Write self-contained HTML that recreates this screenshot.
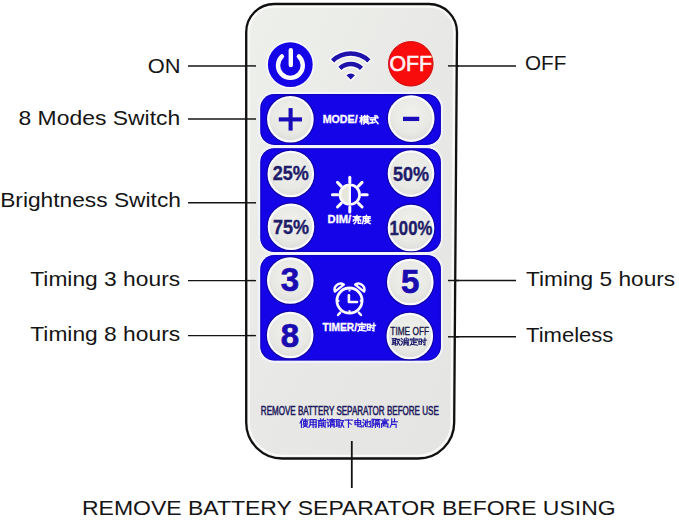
<!DOCTYPE html>
<html><head><meta charset="utf-8">
<style>
*{margin:0;padding:0;box-sizing:border-box}
html,body{width:679px;height:520px;background:#fff;overflow:hidden;position:relative;font-family:"Liberation Sans",sans-serif}
.lbl{position:absolute;font-size:21px;color:#151515;white-space:nowrap;line-height:1;transform-origin:right top}
.lblr{position:absolute;font-size:21px;color:#151515;white-space:nowrap;line-height:1;transform-origin:left top}
</style></head><body>
<svg width="679" height="520" viewBox="0 0 679 520" style="position:absolute;left:0;top:0">
<defs>
<linearGradient id="body" x1="0" y1="0" x2="1" y2="1">
<stop offset="0" stop-color="#eef0ec"/><stop offset="0.5" stop-color="#e8e9e6"/><stop offset="1" stop-color="#e4e5e3"/>
</linearGradient>
<radialGradient id="btn" cx="0.5" cy="0.4" r="0.6">
<stop offset="0" stop-color="#f1f2ee"/><stop offset="0.7" stop-color="#e8e9e4"/><stop offset="1" stop-color="#dddedb"/>
</radialGradient>
</defs>
<line x1="188" y1="65.9" x2="256" y2="65.9" stroke="#141414" stroke-width="1.45"/>
<line x1="188" y1="119.0" x2="256" y2="119.0" stroke="#141414" stroke-width="1.45"/>
<line x1="188" y1="202.8" x2="256" y2="202.8" stroke="#141414" stroke-width="1.45"/>
<line x1="188" y1="280.6" x2="256" y2="280.6" stroke="#141414" stroke-width="1.45"/>
<line x1="188" y1="335.6" x2="256" y2="335.6" stroke="#141414" stroke-width="1.45"/>
<line x1="448" y1="65.9" x2="516" y2="65.9" stroke="#141414" stroke-width="1.45"/>
<line x1="448" y1="280.5" x2="516" y2="280.5" stroke="#141414" stroke-width="1.45"/>
<line x1="448" y1="336.8" x2="516" y2="336.8" stroke="#141414" stroke-width="1.45"/>
<path d="M246.2,32.0 C246.2,16.5356 258.7356,4.0 274.2,4.0 L429.0,4.0 C444.4644,4.0 457.0,16.5356 457.0,32.0 L454.2,422.5 C454.2,442.3828 438.08279999999996,458.5 418.2,458.5 L282.2,458.5 C262.3172,458.5 246.2,442.3828 246.2,422.5 Z" fill="url(#body)" stroke="#101010" stroke-width="2.3"/>
<path d="M249.0,32.0 C249.0,18.08204 260.28204,6.8 274.2,6.8 L429.0,6.8 C442.91796,6.8 454.2,18.08204 454.2,32.0 L451.4,422.5 C451.4,440.83636 436.53636,455.7 418.2,455.7 L282.2,455.7 C263.86364,455.7 249.0,440.83636 249.0,422.5 Z" fill="none" stroke="#fafaf8" stroke-width="2.0"/>
<line x1="245" y1="65.9" x2="256" y2="65.9" stroke="#141414" stroke-width="1.45"/>
<line x1="245" y1="119.0" x2="256" y2="119.0" stroke="#141414" stroke-width="1.45"/>
<line x1="245" y1="202.8" x2="256" y2="202.8" stroke="#141414" stroke-width="1.45"/>
<line x1="245" y1="280.6" x2="256" y2="280.6" stroke="#141414" stroke-width="1.45"/>
<line x1="245" y1="335.6" x2="256" y2="335.6" stroke="#141414" stroke-width="1.45"/>
<line x1="448" y1="65.9" x2="459" y2="65.9" stroke="#141414" stroke-width="1.45"/>
<line x1="448" y1="280.5" x2="459" y2="280.5" stroke="#141414" stroke-width="1.45"/>
<line x1="448" y1="336.8" x2="459" y2="336.8" stroke="#141414" stroke-width="1.45"/>
<line x1="351.8" y1="441" x2="351.8" y2="488" stroke="#141414" stroke-width="1.8"/>
<circle cx="290.3" cy="64.6" r="23.2" fill="#1604e8" stroke="#fbfbff" stroke-width="1.6"/>
<path d="M298.86,56.43 A12.4,12.4 0 1 1 281.94,56.43" fill="none" stroke="#fbfbff" stroke-width="4.4" stroke-linecap="round"/>
<line x1="290.8" y1="50.3" x2="290.8" y2="65" stroke="#fbfbff" stroke-width="4.4" stroke-linecap="round"/>
<path d="M330.97,59.17 A28.4,28.4 0 0 1 370.43,59.17 L367.30,62.41 A23.9,23.9 0 0 0 334.10,62.41 Z" fill="#1e12aa" stroke="#fbfbff" stroke-width="2.8" stroke-linejoin="round" paint-order="stroke"/>
<path d="M338.34,66.80 A17.8,17.8 0 0 1 363.06,66.80 L359.94,70.03 A13.3,13.3 0 0 0 341.46,70.03 Z" fill="#1e12aa" stroke="#fbfbff" stroke-width="2.8" stroke-linejoin="round" paint-order="stroke"/>
<path d="M350.70,79.60 L346.46,75.21 A6.1,6.1 0 0 1 354.94,75.21 Z" fill="#1e12aa" stroke="#fbfbff" stroke-width="2.8" stroke-linejoin="round" paint-order="stroke"/>
<circle cx="410.8" cy="63.8" r="23.2" fill="#fff0f0"/>
<circle cx="410.8" cy="63.8" r="22.3" fill="#f80c0c" stroke="#c00808" stroke-width="0.9"/>
<text x="410.7" y="71.4" text-anchor="middle" font-family="Liberation Sans" font-weight="normal" font-size="22.6" fill="#fff4f4" stroke="#fff4f4" stroke-width="0.65" transform="translate(410.7,0) scale(0.94,1) translate(-410.7,0)">OFF</text>
<rect x="258.2" y="92.0" width="184.79999999999995" height="55.000000000000014" rx="16" fill="#f3f3fc"/>
<rect x="260.3" y="94.1" width="180.59999999999997" height="50.80000000000001" rx="14" fill="#1604e8"/>
<rect x="260.90000000000003" y="94.69999999999999" width="179.39999999999998" height="49.60000000000001" rx="13.4" fill="none" stroke="#0c0098" stroke-width="1.1" opacity="0.55"/>
<rect x="258.2" y="146.1" width="184.79999999999995" height="108.00000000000001" rx="16" fill="#f3f3fc"/>
<rect x="260.3" y="148.2" width="180.59999999999997" height="103.80000000000001" rx="14" fill="#1604e8"/>
<rect x="260.90000000000003" y="148.79999999999998" width="179.39999999999998" height="102.60000000000001" rx="13.4" fill="none" stroke="#0c0098" stroke-width="1.1" opacity="0.55"/>
<rect x="258.2" y="253.0" width="184.79999999999995" height="109.70000000000003" rx="16" fill="#f3f3fc"/>
<rect x="260.3" y="255.1" width="180.59999999999997" height="105.50000000000003" rx="14" fill="#1604e8"/>
<rect x="260.90000000000003" y="255.7" width="179.39999999999998" height="104.30000000000003" rx="13.4" fill="none" stroke="#0c0098" stroke-width="1.1" opacity="0.55"/>
<circle cx="290.4" cy="119.2" r="23.7" fill="none" stroke="#0a0080" stroke-width="1.8" opacity="0.6"/>
<circle cx="290.4" cy="119.2" r="22.2" fill="url(#btn)" stroke="#fbfbff" stroke-width="2.2"/>
<circle cx="411.2" cy="118.6" r="23.7" fill="none" stroke="#0a0080" stroke-width="1.8" opacity="0.6"/>
<circle cx="411.2" cy="118.6" r="22.2" fill="url(#btn)" stroke="#fbfbff" stroke-width="2.2"/>
<circle cx="290.8" cy="174.0" r="23.7" fill="none" stroke="#0a0080" stroke-width="1.8" opacity="0.6"/>
<circle cx="290.8" cy="174.0" r="22.2" fill="url(#btn)" stroke="#fbfbff" stroke-width="2.2"/>
<circle cx="411.0" cy="173.6" r="23.7" fill="none" stroke="#0a0080" stroke-width="1.8" opacity="0.6"/>
<circle cx="411.0" cy="173.6" r="22.2" fill="url(#btn)" stroke="#fbfbff" stroke-width="2.2"/>
<circle cx="291.0" cy="226.8" r="23.7" fill="none" stroke="#0a0080" stroke-width="1.8" opacity="0.6"/>
<circle cx="291.0" cy="226.8" r="22.2" fill="url(#btn)" stroke="#fbfbff" stroke-width="2.2"/>
<circle cx="411.0" cy="228.0" r="23.7" fill="none" stroke="#0a0080" stroke-width="1.8" opacity="0.6"/>
<circle cx="411.0" cy="228.0" r="22.2" fill="url(#btn)" stroke="#fbfbff" stroke-width="2.2"/>
<circle cx="290.3" cy="280.5" r="23.7" fill="none" stroke="#0a0080" stroke-width="1.8" opacity="0.6"/>
<circle cx="290.3" cy="280.5" r="22.2" fill="url(#btn)" stroke="#fbfbff" stroke-width="2.2"/>
<circle cx="290.2" cy="335.0" r="23.7" fill="none" stroke="#0a0080" stroke-width="1.8" opacity="0.6"/>
<circle cx="290.2" cy="335.0" r="22.2" fill="url(#btn)" stroke="#fbfbff" stroke-width="2.2"/>
<circle cx="410.3" cy="282.0" r="23.7" fill="none" stroke="#0a0080" stroke-width="1.8" opacity="0.6"/>
<circle cx="410.3" cy="282.0" r="22.2" fill="url(#btn)" stroke="#fbfbff" stroke-width="2.2"/>
<circle cx="409.8" cy="336.0" r="23.7" fill="none" stroke="#0a0080" stroke-width="1.8" opacity="0.6"/>
<circle cx="409.8" cy="336.0" r="22.2" fill="url(#btn)" stroke="#fbfbff" stroke-width="2.2"/>
<line x1="278.8" y1="119.4" x2="302" y2="119.4" stroke="#1a0cb8" stroke-width="4.1"/>
<line x1="290.6" y1="108.1" x2="290.6" y2="130.6" stroke="#1a0cb8" stroke-width="4.1"/>
<line x1="403" y1="118.9" x2="419.2" y2="118.9" stroke="#1a0cb8" stroke-width="4.3"/>
<text x="290.8" y="180.1" text-anchor="middle" font-family="Liberation Sans" font-weight="bold" font-size="21" fill="#1f1c6a" transform="translate(290.8,0) scale(0.86,1) translate(-290.8,0)" stroke="#1f1c6a" stroke-width="0.4">25%</text>
<text x="411.0" y="180.9" text-anchor="middle" font-family="Liberation Sans" font-weight="bold" font-size="21" fill="#1f1c6a" transform="translate(411.0,0) scale(0.86,1) translate(-411.0,0)" stroke="#1f1c6a" stroke-width="0.4">50%</text>
<text x="291.0" y="234.3" text-anchor="middle" font-family="Liberation Sans" font-weight="bold" font-size="21" fill="#1f1c6a" transform="translate(291.0,0) scale(0.86,1) translate(-291.0,0)" stroke="#1f1c6a" stroke-width="0.4">75%</text>
<text x="411.0" y="235.4" text-anchor="middle" font-family="Liberation Sans" font-weight="bold" font-size="21" fill="#1f1c6a" transform="translate(411.0,0) scale(0.8,1) translate(-411.0,0)" stroke="#1f1c6a" stroke-width="0.4">100%</text>
<text x="289.9" y="291.2" text-anchor="middle" font-family="Liberation Sans" font-weight="bold" font-size="33" fill="#1a0cb0" transform="translate(289.9,0) scale(1.0,1) translate(-289.9,0)" stroke="#1a0cb0" stroke-width="0.7">3</text>
<text x="290.0" y="347.0" text-anchor="middle" font-family="Liberation Sans" font-weight="bold" font-size="33" fill="#1a0cb0" transform="translate(290.0,0) scale(1.0,1) translate(-290.0,0)" stroke="#1a0cb0" stroke-width="0.7">8</text>
<text x="410.3" y="293.0" text-anchor="middle" font-family="Liberation Sans" font-weight="bold" font-size="33" fill="#1a0cb0" transform="translate(410.3,0) scale(1.0,1) translate(-410.3,0)" stroke="#1a0cb0" stroke-width="0.7">5</text>
<text x="409.7" y="334.6" text-anchor="middle" font-family="Liberation Sans" font-weight="normal" font-size="10.4" fill="#1a1848" transform="translate(409.7,0) scale(0.8,1) translate(-409.7,0)" stroke="#1a1848" stroke-width="0.35">TIME OFF</text>
<text x="322.7" y="123.5" font-family="Liberation Sans" font-weight="bold" font-size="11" fill="#fbfbff" stroke="#fbfbff" stroke-width="0.35" transform="translate(322.7,0) scale(0.97,1) translate(-322.7,0)">MODE/</text>
<text x="327.6" y="223.4" font-family="Liberation Sans" font-weight="bold" font-size="11.2" fill="#fbfbff" stroke="#fbfbff" stroke-width="0.35">DIM/</text>
<text x="322.6" y="330.8" font-family="Liberation Sans" font-weight="bold" font-size="10.6" fill="#fbfbff" stroke="#fbfbff" stroke-width="0.35" transform="translate(322.6,0) scale(0.96,1) translate(-322.6,0)">TIMER/</text>
<line x1="349.80" y1="182.50" x2="349.80" y2="177.30" stroke="#fbfbff" stroke-width="3.0" stroke-linecap="round"/>
<line x1="358.43" y1="186.07" x2="362.10" y2="182.40" stroke="#fbfbff" stroke-width="3.0" stroke-linecap="round"/>
<line x1="362.00" y1="194.70" x2="367.20" y2="194.70" stroke="#fbfbff" stroke-width="3.0" stroke-linecap="round"/>
<line x1="358.43" y1="203.33" x2="362.10" y2="207.00" stroke="#fbfbff" stroke-width="3.0" stroke-linecap="round"/>
<line x1="349.80" y1="206.90" x2="349.80" y2="212.10" stroke="#fbfbff" stroke-width="3.0" stroke-linecap="round"/>
<line x1="341.17" y1="203.33" x2="337.50" y2="207.00" stroke="#fbfbff" stroke-width="3.0" stroke-linecap="round"/>
<line x1="337.60" y1="194.70" x2="332.40" y2="194.70" stroke="#fbfbff" stroke-width="3.0" stroke-linecap="round"/>
<line x1="341.17" y1="186.07" x2="337.50" y2="182.40" stroke="#fbfbff" stroke-width="3.0" stroke-linecap="round"/>
<path d="M349.8,184.79999999999998 A9.9,9.9 0 0 0 349.8,204.6 Z" fill="#e6e6dc"/>
<circle cx="349.8" cy="194.7" r="9.8" fill="none" stroke="#fbfbff" stroke-width="2.7"/>
<line x1="349.8" y1="184.7" x2="349.8" y2="204.7" stroke="#fbfbff" stroke-width="2.4"/>
<circle cx="349.5" cy="300.6" r="12.6" fill="none" stroke="#fbfbff" stroke-width="2.8"/>
<path d="M334.9,291.6 A6.0,6.0 0 0 1 343.8,284.6 Z" fill="#1604e8" stroke="#fbfbff" stroke-width="2.4" stroke-linejoin="round"/>
<path d="M364.1,291.6 A6.0,6.0 0 0 0 355.2,284.6 Z" fill="#1604e8" stroke="#fbfbff" stroke-width="2.4" stroke-linejoin="round"/>
<line x1="340.2" y1="312.6" x2="338.0" y2="315.0" stroke="#fbfbff" stroke-width="2.4" stroke-linecap="round"/>
<line x1="358.8" y1="312.6" x2="361.0" y2="315.0" stroke="#fbfbff" stroke-width="2.4" stroke-linecap="round"/>
<polyline points="348.9,295.2 348.9,302 357.0,302" fill="none" stroke="#fbfbff" stroke-width="2.6" stroke-linecap="round" stroke-linejoin="round"/>
<line x1="349.5" y1="289.6" x2="349.5" y2="291.4" stroke="#fbfbff" stroke-width="2"/>
<line x1="349.5" y1="310.2" x2="349.5" y2="312" stroke="#fbfbff" stroke-width="2"/>
<line x1="337.6" y1="300.8" x2="339.4" y2="300.8" stroke="#fbfbff" stroke-width="2"/>
<line x1="359.8" y1="300.8" x2="361.6" y2="300.8" stroke="#fbfbff" stroke-width="2"/>
<polyline points="360.00,117.88 363.01,117.88" fill="none" stroke="#fbfbff" stroke-width="1.5" stroke-linecap="square" stroke-linejoin="miter"/>
<polyline points="361.55,115.73 361.55,123.90" fill="none" stroke="#fbfbff" stroke-width="1.5" stroke-linecap="square" stroke-linejoin="miter"/>
<polyline points="361.55,118.31 360.00,121.75" fill="none" stroke="#fbfbff" stroke-width="1.5" stroke-linecap="square" stroke-linejoin="miter"/>
<polyline points="361.55,118.57 363.01,120.46" fill="none" stroke="#fbfbff" stroke-width="1.5" stroke-linecap="square" stroke-linejoin="miter"/>
<polyline points="363.44,116.59 368.60,116.59" fill="none" stroke="#fbfbff" stroke-width="1.5" stroke-linecap="square" stroke-linejoin="miter"/>
<polyline points="364.73,115.56 364.73,117.54" fill="none" stroke="#fbfbff" stroke-width="1.5" stroke-linecap="square" stroke-linejoin="miter"/>
<polyline points="367.31,115.56 367.31,117.54" fill="none" stroke="#fbfbff" stroke-width="1.5" stroke-linecap="square" stroke-linejoin="miter"/>
<polyline points="364.30,118.05 367.74,118.05 367.74,120.98 364.30,120.98 364.30,118.05" fill="none" stroke="#fbfbff" stroke-width="1.5" stroke-linecap="square" stroke-linejoin="miter"/>
<polyline points="364.30,119.51 367.74,119.51" fill="none" stroke="#fbfbff" stroke-width="1.5" stroke-linecap="square" stroke-linejoin="miter"/>
<polyline points="363.44,122.01 368.60,122.01" fill="none" stroke="#fbfbff" stroke-width="1.5" stroke-linecap="square" stroke-linejoin="miter"/>
<polyline points="366.02,120.98 363.70,123.90" fill="none" stroke="#fbfbff" stroke-width="1.5" stroke-linecap="square" stroke-linejoin="miter"/>
<polyline points="366.02,122.01 368.60,123.90" fill="none" stroke="#fbfbff" stroke-width="1.5" stroke-linecap="square" stroke-linejoin="miter"/>
<polyline points="369.86,117.88 377.94,117.88" fill="none" stroke="#fbfbff" stroke-width="1.5" stroke-linecap="square" stroke-linejoin="miter"/>
<polyline points="370.46,119.77 374.33,119.77" fill="none" stroke="#fbfbff" stroke-width="1.5" stroke-linecap="square" stroke-linejoin="miter"/>
<polyline points="372.35,119.77 372.35,122.70" fill="none" stroke="#fbfbff" stroke-width="1.5" stroke-linecap="square" stroke-linejoin="miter"/>
<polyline points="370.03,123.04 374.76,122.35" fill="none" stroke="#fbfbff" stroke-width="1.5" stroke-linecap="square" stroke-linejoin="miter"/>
<polyline points="375.02,115.56 375.45,120.46 378.03,123.73" fill="none" stroke="#fbfbff" stroke-width="1.5" stroke-linecap="square" stroke-linejoin="miter"/>
<polyline points="376.65,115.82 377.51,116.85" fill="none" stroke="#fbfbff" stroke-width="1.5" stroke-linecap="square" stroke-linejoin="miter"/>
<polyline points="357.00,215.40 357.00,216.38" fill="none" stroke="#fbfbff" stroke-width="1.45" stroke-linecap="square" stroke-linejoin="miter"/>
<polyline points="353.24,216.63 360.76,216.63" fill="none" stroke="#fbfbff" stroke-width="1.45" stroke-linecap="square" stroke-linejoin="miter"/>
<polyline points="355.00,217.61 359.00,217.61 359.00,219.09 355.00,219.09 355.00,217.61" fill="none" stroke="#fbfbff" stroke-width="1.45" stroke-linecap="square" stroke-linejoin="miter"/>
<polyline points="353.40,221.14 353.40,220.07 360.60,220.07 360.60,221.14" fill="none" stroke="#fbfbff" stroke-width="1.45" stroke-linecap="square" stroke-linejoin="miter"/>
<polyline points="355.80,220.73 355.80,221.96 354.20,223.60" fill="none" stroke="#fbfbff" stroke-width="1.45" stroke-linecap="square" stroke-linejoin="miter"/>
<polyline points="358.20,220.73 358.20,223.19 360.76,223.19" fill="none" stroke="#fbfbff" stroke-width="1.45" stroke-linecap="square" stroke-linejoin="miter"/>
<polyline points="366.40,215.40 366.40,216.38" fill="none" stroke="#fbfbff" stroke-width="1.45" stroke-linecap="square" stroke-linejoin="miter"/>
<polyline points="363.36,216.71 370.16,216.71" fill="none" stroke="#fbfbff" stroke-width="1.45" stroke-linecap="square" stroke-linejoin="miter"/>
<polyline points="363.36,216.71 363.36,220.32 362.40,223.60" fill="none" stroke="#fbfbff" stroke-width="1.45" stroke-linecap="square" stroke-linejoin="miter"/>
<polyline points="364.40,218.35 370.16,218.35" fill="none" stroke="#fbfbff" stroke-width="1.45" stroke-linecap="square" stroke-linejoin="miter"/>
<polyline points="365.60,217.53 365.60,219.99" fill="none" stroke="#fbfbff" stroke-width="1.45" stroke-linecap="square" stroke-linejoin="miter"/>
<polyline points="368.40,217.53 368.40,219.99" fill="none" stroke="#fbfbff" stroke-width="1.45" stroke-linecap="square" stroke-linejoin="miter"/>
<polyline points="365.60,219.99 368.40,219.99" fill="none" stroke="#fbfbff" stroke-width="1.45" stroke-linecap="square" stroke-linejoin="miter"/>
<polyline points="364.80,220.98 369.20,220.98 364.80,223.60" fill="none" stroke="#fbfbff" stroke-width="1.45" stroke-linecap="square" stroke-linejoin="miter"/>
<polyline points="366.00,221.80 370.24,223.60" fill="none" stroke="#fbfbff" stroke-width="1.45" stroke-linecap="square" stroke-linejoin="miter"/>
<polyline points="361.90,323.00 361.90,323.98" fill="none" stroke="#fbfbff" stroke-width="1.45" stroke-linecap="square" stroke-linejoin="miter"/>
<polyline points="358.03,325.46 358.03,324.31 365.77,324.31 365.77,325.46" fill="none" stroke="#fbfbff" stroke-width="1.45" stroke-linecap="square" stroke-linejoin="miter"/>
<polyline points="359.32,326.28 364.48,326.28" fill="none" stroke="#fbfbff" stroke-width="1.45" stroke-linecap="square" stroke-linejoin="miter"/>
<polyline points="361.90,326.28 361.90,330.05" fill="none" stroke="#fbfbff" stroke-width="1.45" stroke-linecap="square" stroke-linejoin="miter"/>
<polyline points="361.90,328.08 364.65,328.08" fill="none" stroke="#fbfbff" stroke-width="1.45" stroke-linecap="square" stroke-linejoin="miter"/>
<polyline points="359.75,327.59 359.32,330.05 358.03,331.20" fill="none" stroke="#fbfbff" stroke-width="1.45" stroke-linecap="square" stroke-linejoin="miter"/>
<polyline points="359.32,330.05 366.03,331.04" fill="none" stroke="#fbfbff" stroke-width="1.45" stroke-linecap="square" stroke-linejoin="miter"/>
<polyline points="367.43,324.23 370.10,324.23 370.10,329.97 367.43,329.97 367.43,324.23" fill="none" stroke="#fbfbff" stroke-width="1.45" stroke-linecap="square" stroke-linejoin="miter"/>
<polyline points="367.43,327.10 370.10,327.10" fill="none" stroke="#fbfbff" stroke-width="1.45" stroke-linecap="square" stroke-linejoin="miter"/>
<polyline points="370.87,325.46 375.43,325.46" fill="none" stroke="#fbfbff" stroke-width="1.45" stroke-linecap="square" stroke-linejoin="miter"/>
<polyline points="373.88,323.25 373.88,330.87 372.59,330.46" fill="none" stroke="#fbfbff" stroke-width="1.45" stroke-linecap="square" stroke-linejoin="miter"/>
<polyline points="371.73,327.10 372.59,328.33" fill="none" stroke="#fbfbff" stroke-width="1.45" stroke-linecap="square" stroke-linejoin="miter"/>
<polyline points="392.20,338.64 396.15,338.64" fill="none" stroke="#1c1a6a" stroke-width="1.1" stroke-linecap="square" stroke-linejoin="miter"/>
<polyline points="392.99,338.64 392.99,344.19" fill="none" stroke="#1c1a6a" stroke-width="1.1" stroke-linecap="square" stroke-linejoin="miter"/>
<polyline points="395.36,338.64 395.36,345.30" fill="none" stroke="#1c1a6a" stroke-width="1.1" stroke-linecap="square" stroke-linejoin="miter"/>
<polyline points="392.99,340.56 395.36,340.56" fill="none" stroke="#1c1a6a" stroke-width="1.1" stroke-linecap="square" stroke-linejoin="miter"/>
<polyline points="392.99,342.41 395.36,342.41" fill="none" stroke="#1c1a6a" stroke-width="1.1" stroke-linecap="square" stroke-linejoin="miter"/>
<polyline points="392.20,344.41 396.15,343.67" fill="none" stroke="#1c1a6a" stroke-width="1.1" stroke-linecap="square" stroke-linejoin="miter"/>
<polyline points="396.55,339.38 399.70,339.38 396.94,345.30" fill="none" stroke="#1c1a6a" stroke-width="1.1" stroke-linecap="square" stroke-linejoin="miter"/>
<polyline points="397.18,340.86 400.10,345.30" fill="none" stroke="#1c1a6a" stroke-width="1.1" stroke-linecap="square" stroke-linejoin="miter"/>
<polyline points="401.39,338.49 402.26,339.38" fill="none" stroke="#1c1a6a" stroke-width="1.1" stroke-linecap="square" stroke-linejoin="miter"/>
<polyline points="401.00,340.86 402.26,341.75" fill="none" stroke="#1c1a6a" stroke-width="1.1" stroke-linecap="square" stroke-linejoin="miter"/>
<polyline points="401.16,344.93 402.58,342.71" fill="none" stroke="#1c1a6a" stroke-width="1.1" stroke-linecap="square" stroke-linejoin="miter"/>
<polyline points="406.21,337.90 406.21,340.12" fill="none" stroke="#1c1a6a" stroke-width="1.1" stroke-linecap="square" stroke-linejoin="miter"/>
<polyline points="404.63,338.64 404.00,339.97" fill="none" stroke="#1c1a6a" stroke-width="1.1" stroke-linecap="square" stroke-linejoin="miter"/>
<polyline points="407.79,338.64 408.58,339.97" fill="none" stroke="#1c1a6a" stroke-width="1.1" stroke-linecap="square" stroke-linejoin="miter"/>
<polyline points="404.16,340.86 404.16,343.97 403.76,345.30" fill="none" stroke="#1c1a6a" stroke-width="1.1" stroke-linecap="square" stroke-linejoin="miter"/>
<polyline points="404.16,340.86 408.11,340.86 408.11,345.30 407.32,344.93" fill="none" stroke="#1c1a6a" stroke-width="1.1" stroke-linecap="square" stroke-linejoin="miter"/>
<polyline points="404.16,342.41 408.11,342.41" fill="none" stroke="#1c1a6a" stroke-width="1.1" stroke-linecap="square" stroke-linejoin="miter"/>
<polyline points="404.16,343.89 408.11,343.89" fill="none" stroke="#1c1a6a" stroke-width="1.1" stroke-linecap="square" stroke-linejoin="miter"/>
<polyline points="413.75,337.90 413.75,338.79" fill="none" stroke="#1c1a6a" stroke-width="1.1" stroke-linecap="square" stroke-linejoin="miter"/>
<polyline points="410.19,340.12 410.19,339.08 417.31,339.08 417.31,340.12" fill="none" stroke="#1c1a6a" stroke-width="1.1" stroke-linecap="square" stroke-linejoin="miter"/>
<polyline points="411.38,340.86 416.12,340.86" fill="none" stroke="#1c1a6a" stroke-width="1.1" stroke-linecap="square" stroke-linejoin="miter"/>
<polyline points="413.75,340.86 413.75,344.26" fill="none" stroke="#1c1a6a" stroke-width="1.1" stroke-linecap="square" stroke-linejoin="miter"/>
<polyline points="413.75,342.49 416.28,342.49" fill="none" stroke="#1c1a6a" stroke-width="1.1" stroke-linecap="square" stroke-linejoin="miter"/>
<polyline points="411.78,342.04 411.38,344.26 410.19,345.30" fill="none" stroke="#1c1a6a" stroke-width="1.1" stroke-linecap="square" stroke-linejoin="miter"/>
<polyline points="411.38,344.26 417.54,345.15" fill="none" stroke="#1c1a6a" stroke-width="1.1" stroke-linecap="square" stroke-linejoin="miter"/>
<polyline points="418.99,339.01 421.44,339.01 421.44,344.19 418.99,344.19 418.99,339.01" fill="none" stroke="#1c1a6a" stroke-width="1.1" stroke-linecap="square" stroke-linejoin="miter"/>
<polyline points="418.99,341.60 421.44,341.60" fill="none" stroke="#1c1a6a" stroke-width="1.1" stroke-linecap="square" stroke-linejoin="miter"/>
<polyline points="422.15,340.12 426.34,340.12" fill="none" stroke="#1c1a6a" stroke-width="1.1" stroke-linecap="square" stroke-linejoin="miter"/>
<polyline points="424.92,338.12 424.92,345.00 423.73,344.63" fill="none" stroke="#1c1a6a" stroke-width="1.1" stroke-linecap="square" stroke-linejoin="miter"/>
<polyline points="422.94,341.60 423.73,342.71" fill="none" stroke="#1c1a6a" stroke-width="1.1" stroke-linecap="square" stroke-linejoin="miter"/>
<polyline points="302.40,418.80 300.00,423.05" fill="none" stroke="#2a1acc" stroke-width="1.15" stroke-linecap="square" stroke-linejoin="miter"/>
<polyline points="301.44,420.93 301.44,427.30" fill="none" stroke="#2a1acc" stroke-width="1.15" stroke-linecap="square" stroke-linejoin="miter"/>
<polyline points="302.80,420.07 308.00,420.07" fill="none" stroke="#2a1acc" stroke-width="1.15" stroke-linecap="square" stroke-linejoin="miter"/>
<polyline points="303.60,421.35 307.20,421.35 307.20,423.90 303.60,423.90 303.60,421.35" fill="none" stroke="#2a1acc" stroke-width="1.15" stroke-linecap="square" stroke-linejoin="miter"/>
<polyline points="305.36,419.06 305.36,424.75" fill="none" stroke="#2a1acc" stroke-width="1.15" stroke-linecap="square" stroke-linejoin="miter"/>
<polyline points="303.20,424.75 307.68,427.30" fill="none" stroke="#2a1acc" stroke-width="1.15" stroke-linecap="square" stroke-linejoin="miter"/>
<polyline points="307.20,424.75 303.20,427.30" fill="none" stroke="#2a1acc" stroke-width="1.15" stroke-linecap="square" stroke-linejoin="miter"/>
<polyline points="310.17,419.65 310.17,424.75 308.97,427.30" fill="none" stroke="#2a1acc" stroke-width="1.15" stroke-linecap="square" stroke-linejoin="miter"/>
<polyline points="310.17,419.65 316.17,419.65 316.17,427.30 314.97,426.88" fill="none" stroke="#2a1acc" stroke-width="1.15" stroke-linecap="square" stroke-linejoin="miter"/>
<polyline points="310.17,422.20 316.17,422.20" fill="none" stroke="#2a1acc" stroke-width="1.15" stroke-linecap="square" stroke-linejoin="miter"/>
<polyline points="310.17,424.75 316.17,424.75" fill="none" stroke="#2a1acc" stroke-width="1.15" stroke-linecap="square" stroke-linejoin="miter"/>
<polyline points="313.13,419.65 313.13,427.30" fill="none" stroke="#2a1acc" stroke-width="1.15" stroke-linecap="square" stroke-linejoin="miter"/>
<polyline points="320.34,418.80 320.98,419.82" fill="none" stroke="#2a1acc" stroke-width="1.15" stroke-linecap="square" stroke-linejoin="miter"/>
<polyline points="323.54,418.80 322.90,419.82" fill="none" stroke="#2a1acc" stroke-width="1.15" stroke-linecap="square" stroke-linejoin="miter"/>
<polyline points="318.18,420.50 325.70,420.50" fill="none" stroke="#2a1acc" stroke-width="1.15" stroke-linecap="square" stroke-linejoin="miter"/>
<polyline points="318.74,421.78 318.74,427.30" fill="none" stroke="#2a1acc" stroke-width="1.15" stroke-linecap="square" stroke-linejoin="miter"/>
<polyline points="318.74,421.78 321.94,421.78 321.94,427.30" fill="none" stroke="#2a1acc" stroke-width="1.15" stroke-linecap="square" stroke-linejoin="miter"/>
<polyline points="318.74,423.73 321.94,423.73" fill="none" stroke="#2a1acc" stroke-width="1.15" stroke-linecap="square" stroke-linejoin="miter"/>
<polyline points="318.74,425.60 321.94,425.60" fill="none" stroke="#2a1acc" stroke-width="1.15" stroke-linecap="square" stroke-linejoin="miter"/>
<polyline points="323.54,422.20 323.54,426.03" fill="none" stroke="#2a1acc" stroke-width="1.15" stroke-linecap="square" stroke-linejoin="miter"/>
<polyline points="325.14,421.78 325.14,427.30 324.34,426.88" fill="none" stroke="#2a1acc" stroke-width="1.15" stroke-linecap="square" stroke-linejoin="miter"/>
<polyline points="327.31,419.23 328.11,420.07" fill="none" stroke="#2a1acc" stroke-width="1.15" stroke-linecap="square" stroke-linejoin="miter"/>
<polyline points="326.91,422.20 328.11,422.20 328.11,426.45 329.15,425.60" fill="none" stroke="#2a1acc" stroke-width="1.15" stroke-linecap="square" stroke-linejoin="miter"/>
<polyline points="329.71,419.65 334.67,419.65" fill="none" stroke="#2a1acc" stroke-width="1.15" stroke-linecap="square" stroke-linejoin="miter"/>
<polyline points="332.11,418.80 332.11,421.78" fill="none" stroke="#2a1acc" stroke-width="1.15" stroke-linecap="square" stroke-linejoin="miter"/>
<polyline points="330.11,420.67 334.11,420.67" fill="none" stroke="#2a1acc" stroke-width="1.15" stroke-linecap="square" stroke-linejoin="miter"/>
<polyline points="329.71,421.78 334.91,421.78" fill="none" stroke="#2a1acc" stroke-width="1.15" stroke-linecap="square" stroke-linejoin="miter"/>
<polyline points="330.51,422.88 330.51,427.30" fill="none" stroke="#2a1acc" stroke-width="1.15" stroke-linecap="square" stroke-linejoin="miter"/>
<polyline points="330.51,422.88 334.11,422.88 334.11,427.30" fill="none" stroke="#2a1acc" stroke-width="1.15" stroke-linecap="square" stroke-linejoin="miter"/>
<polyline points="330.51,424.41 334.11,424.41" fill="none" stroke="#2a1acc" stroke-width="1.15" stroke-linecap="square" stroke-linejoin="miter"/>
<polyline points="330.51,425.86 334.11,425.86" fill="none" stroke="#2a1acc" stroke-width="1.15" stroke-linecap="square" stroke-linejoin="miter"/>
<polyline points="335.88,419.65 339.88,419.65" fill="none" stroke="#2a1acc" stroke-width="1.15" stroke-linecap="square" stroke-linejoin="miter"/>
<polyline points="336.68,419.65 336.68,426.03" fill="none" stroke="#2a1acc" stroke-width="1.15" stroke-linecap="square" stroke-linejoin="miter"/>
<polyline points="339.08,419.65 339.08,427.30" fill="none" stroke="#2a1acc" stroke-width="1.15" stroke-linecap="square" stroke-linejoin="miter"/>
<polyline points="336.68,421.86 339.08,421.86" fill="none" stroke="#2a1acc" stroke-width="1.15" stroke-linecap="square" stroke-linejoin="miter"/>
<polyline points="336.68,423.99 339.08,423.99" fill="none" stroke="#2a1acc" stroke-width="1.15" stroke-linecap="square" stroke-linejoin="miter"/>
<polyline points="335.88,426.28 339.88,425.43" fill="none" stroke="#2a1acc" stroke-width="1.15" stroke-linecap="square" stroke-linejoin="miter"/>
<polyline points="340.28,420.50 343.48,420.50 340.68,427.30" fill="none" stroke="#2a1acc" stroke-width="1.15" stroke-linecap="square" stroke-linejoin="miter"/>
<polyline points="340.92,422.20 343.88,427.30" fill="none" stroke="#2a1acc" stroke-width="1.15" stroke-linecap="square" stroke-linejoin="miter"/>
<polyline points="345.09,420.07 352.61,420.07" fill="none" stroke="#2a1acc" stroke-width="1.15" stroke-linecap="square" stroke-linejoin="miter"/>
<polyline points="348.45,420.07 348.45,427.30" fill="none" stroke="#2a1acc" stroke-width="1.15" stroke-linecap="square" stroke-linejoin="miter"/>
<polyline points="348.85,422.62 351.25,424.32" fill="none" stroke="#2a1acc" stroke-width="1.15" stroke-linecap="square" stroke-linejoin="miter"/>
<polyline points="355.02,420.50 360.62,420.50 360.62,424.75 355.02,424.75 355.02,420.50" fill="none" stroke="#2a1acc" stroke-width="1.15" stroke-linecap="square" stroke-linejoin="miter"/>
<polyline points="355.02,422.62 360.62,422.62" fill="none" stroke="#2a1acc" stroke-width="1.15" stroke-linecap="square" stroke-linejoin="miter"/>
<polyline points="357.82,418.80 357.82,426.45 361.66,426.88 361.66,425.60" fill="none" stroke="#2a1acc" stroke-width="1.15" stroke-linecap="square" stroke-linejoin="miter"/>
<polyline points="363.19,419.48 364.07,420.50" fill="none" stroke="#2a1acc" stroke-width="1.15" stroke-linecap="square" stroke-linejoin="miter"/>
<polyline points="362.79,422.20 364.07,423.22" fill="none" stroke="#2a1acc" stroke-width="1.15" stroke-linecap="square" stroke-linejoin="miter"/>
<polyline points="362.95,426.88 364.39,424.32" fill="none" stroke="#2a1acc" stroke-width="1.15" stroke-linecap="square" stroke-linejoin="miter"/>
<polyline points="365.59,422.62 370.39,421.35 370.15,424.32 369.59,424.07" fill="none" stroke="#2a1acc" stroke-width="1.15" stroke-linecap="square" stroke-linejoin="miter"/>
<polyline points="367.19,419.65 367.19,425.18" fill="none" stroke="#2a1acc" stroke-width="1.15" stroke-linecap="square" stroke-linejoin="miter"/>
<polyline points="365.59,420.93 365.59,426.45 370.63,426.88 370.63,425.60" fill="none" stroke="#2a1acc" stroke-width="1.15" stroke-linecap="square" stroke-linejoin="miter"/>
<polyline points="372.16,419.23 374.16,419.23 372.96,422.20 374.16,424.75 373.36,425.60" fill="none" stroke="#2a1acc" stroke-width="1.15" stroke-linecap="square" stroke-linejoin="miter"/>
<polyline points="372.16,419.23 372.16,427.30" fill="none" stroke="#2a1acc" stroke-width="1.15" stroke-linecap="square" stroke-linejoin="miter"/>
<polyline points="374.96,419.48 379.76,419.48" fill="none" stroke="#2a1acc" stroke-width="1.15" stroke-linecap="square" stroke-linejoin="miter"/>
<polyline points="375.76,420.50 378.96,420.50 378.96,422.03 375.76,422.03 375.76,420.50" fill="none" stroke="#2a1acc" stroke-width="1.15" stroke-linecap="square" stroke-linejoin="miter"/>
<polyline points="375.36,423.05 375.36,427.30" fill="none" stroke="#2a1acc" stroke-width="1.15" stroke-linecap="square" stroke-linejoin="miter"/>
<polyline points="375.36,423.05 379.36,423.05 379.36,427.30" fill="none" stroke="#2a1acc" stroke-width="1.15" stroke-linecap="square" stroke-linejoin="miter"/>
<polyline points="376.16,424.32 378.56,424.32" fill="none" stroke="#2a1acc" stroke-width="1.15" stroke-linecap="square" stroke-linejoin="miter"/>
<polyline points="377.36,423.05 377.36,426.45" fill="none" stroke="#2a1acc" stroke-width="1.15" stroke-linecap="square" stroke-linejoin="miter"/>
<polyline points="384.73,418.80 384.73,419.82" fill="none" stroke="#2a1acc" stroke-width="1.15" stroke-linecap="square" stroke-linejoin="miter"/>
<polyline points="380.97,420.07 388.49,420.07" fill="none" stroke="#2a1acc" stroke-width="1.15" stroke-linecap="square" stroke-linejoin="miter"/>
<polyline points="382.73,421.18 382.73,423.05 386.73,423.05 386.73,421.18" fill="none" stroke="#2a1acc" stroke-width="1.15" stroke-linecap="square" stroke-linejoin="miter"/>
<polyline points="383.53,421.35 385.93,422.62" fill="none" stroke="#2a1acc" stroke-width="1.15" stroke-linecap="square" stroke-linejoin="miter"/>
<polyline points="385.93,421.35 383.53,422.62" fill="none" stroke="#2a1acc" stroke-width="1.15" stroke-linecap="square" stroke-linejoin="miter"/>
<polyline points="381.53,423.90 381.53,427.30" fill="none" stroke="#2a1acc" stroke-width="1.15" stroke-linecap="square" stroke-linejoin="miter"/>
<polyline points="381.53,423.90 387.93,423.90 387.93,427.30 387.13,426.88" fill="none" stroke="#2a1acc" stroke-width="1.15" stroke-linecap="square" stroke-linejoin="miter"/>
<polyline points="384.73,423.05 383.13,426.03 385.93,426.03" fill="none" stroke="#2a1acc" stroke-width="1.15" stroke-linecap="square" stroke-linejoin="miter"/>
<polyline points="391.70,418.80 391.70,423.90 390.10,427.30" fill="none" stroke="#2a1acc" stroke-width="1.15" stroke-linecap="square" stroke-linejoin="miter"/>
<polyline points="391.70,421.78 397.30,421.78" fill="none" stroke="#2a1acc" stroke-width="1.15" stroke-linecap="square" stroke-linejoin="miter"/>
<polyline points="394.50,418.80 394.50,421.78" fill="none" stroke="#2a1acc" stroke-width="1.15" stroke-linecap="square" stroke-linejoin="miter"/>
<polyline points="391.70,424.32 396.10,424.32 396.10,427.30" fill="none" stroke="#2a1acc" stroke-width="1.15" stroke-linecap="square" stroke-linejoin="miter"/>
<text x="349.8" y="415.4" text-anchor="middle" font-family="Liberation Sans" font-weight="normal" font-size="12.2" fill="#1e1a5c" transform="translate(349.8,0) scale(0.66,1) translate(-349.8,0)" stroke="#1e1a5c" stroke-width="0.55">REMOVE BATTERY SEPARATOR BEFORE USE</text>
</svg>
<div class="lbl" style="right:498.5px;top:55.2px;transform:scaleX(1.04)">ON</div>
<div class="lbl" style="right:499px;top:106.6px;transform:scaleX(1.091)">8 Modes Switch</div>
<div class="lbl" style="right:498.5px;top:189.4px;transform:scaleX(1.083)">Brightness Switch</div>
<div class="lbl" style="right:498.5px;top:267.7px;transform:scaleX(1.085)">Timing 3 hours</div>
<div class="lbl" style="right:498.5px;top:322.7px;transform:scaleX(1.085)">Timing 8 hours</div>
<div class="lblr" style="left:524.6px;top:52.2px;transform:scaleX(0.985)">OFF</div>
<div class="lblr" style="left:526px;top:268.2px;transform:scaleX(1.08)">Timing 5 hours</div>
<div class="lblr" style="left:526px;top:324.2px;transform:scaleX(1.05)">Timeless</div>
<div class="lblr" style="left:81.5px;top:497.4px;transform:scaleX(1.094)">REMOVE BATTERY SEPARATOR BEFORE USING</div>
</body></html>
